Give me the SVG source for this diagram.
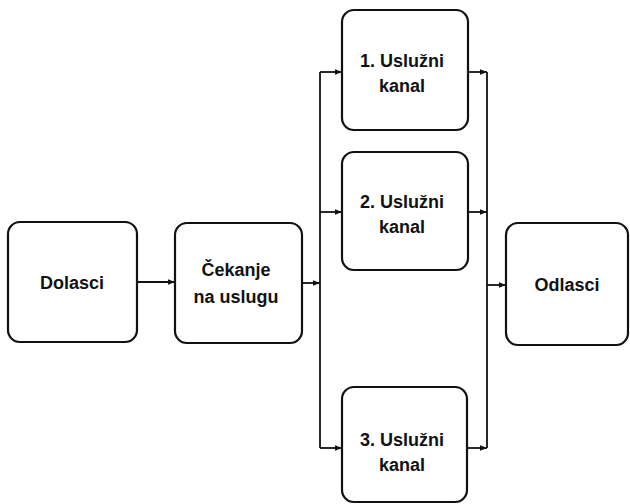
<svg xmlns="http://www.w3.org/2000/svg" width="630" height="504" viewBox="0 0 630 504">
<defs>
<style>
.box{fill:#fff;stroke:#111;stroke-width:2.2}
.lbl{font-family:"Liberation Sans",Arial,sans-serif;font-weight:bold;font-size:18px;fill:#111;text-anchor:middle}
.con{fill:none;stroke:#111;stroke-width:1.8}
</style>
<marker id="ah" viewBox="0 0 10 10" refX="10" refY="5" markerWidth="8" markerHeight="7" orient="auto" markerUnits="userSpaceOnUse">
<path d="M0,1 L10,5 L0,9 Z" fill="#111"/>
</marker>
</defs>
<rect width="630" height="504" fill="#fff"/>
<g id="connectors">
<line class="con" x1="137" y1="282" x2="175" y2="282" marker-end="url(#ah)"/>
<line class="con" x1="302" y1="283" x2="320" y2="283" marker-end="url(#ah)"/>
<path class="con" d="M320,72 L320,448"/>
<line class="con" x1="320" y1="72" x2="342" y2="72" marker-end="url(#ah)"/>
<line class="con" x1="320" y1="212" x2="342" y2="212" marker-end="url(#ah)"/>
<line class="con" x1="320" y1="448" x2="342" y2="448" marker-end="url(#ah)"/>
<line class="con" x1="468" y1="72" x2="487" y2="72" marker-end="url(#ah)"/>
<line class="con" x1="468" y1="212" x2="487" y2="212" marker-end="url(#ah)"/>
<line class="con" x1="467" y1="448" x2="487" y2="448" marker-end="url(#ah)"/>
<path class="con" d="M487,72 L487,448"/>
<line class="con" x1="487" y1="285" x2="506" y2="285" marker-end="url(#ah)"/>
</g>
<g id="dolasci">
<rect class="box" x="8" y="222" width="129" height="120" rx="12"/>
<text class="lbl" x="72" y="289">Dolasci</text>
</g>
<g id="cekanje">
<rect class="box" x="175" y="223" width="127" height="120" rx="12"/>
<text class="lbl" x="236" y="276">Čekanje</text>
<text class="lbl" x="236" y="303">na uslugu</text>
</g>
<g id="kanal1">
<rect class="box" x="342" y="10" width="126" height="120" rx="12"/>
<text class="lbl" x="402" y="67">1. Uslužni</text>
<text class="lbl" x="402" y="92">kanal</text>
</g>
<g id="kanal2">
<rect class="box" x="342" y="152" width="126" height="118" rx="12"/>
<text class="lbl" x="402" y="208">2. Uslužni</text>
<text class="lbl" x="402" y="233">kanal</text>
</g>
<g id="kanal3">
<rect class="box" x="342" y="387" width="125" height="115" rx="12"/>
<text class="lbl" x="402" y="446">3. Uslužni</text>
<text class="lbl" x="402" y="471">kanal</text>
</g>
<g id="odlasci">
<rect class="box" x="506" y="223" width="122" height="122" rx="12"/>
<text class="lbl" x="567" y="291">Odlasci</text>
</g>
</svg>
